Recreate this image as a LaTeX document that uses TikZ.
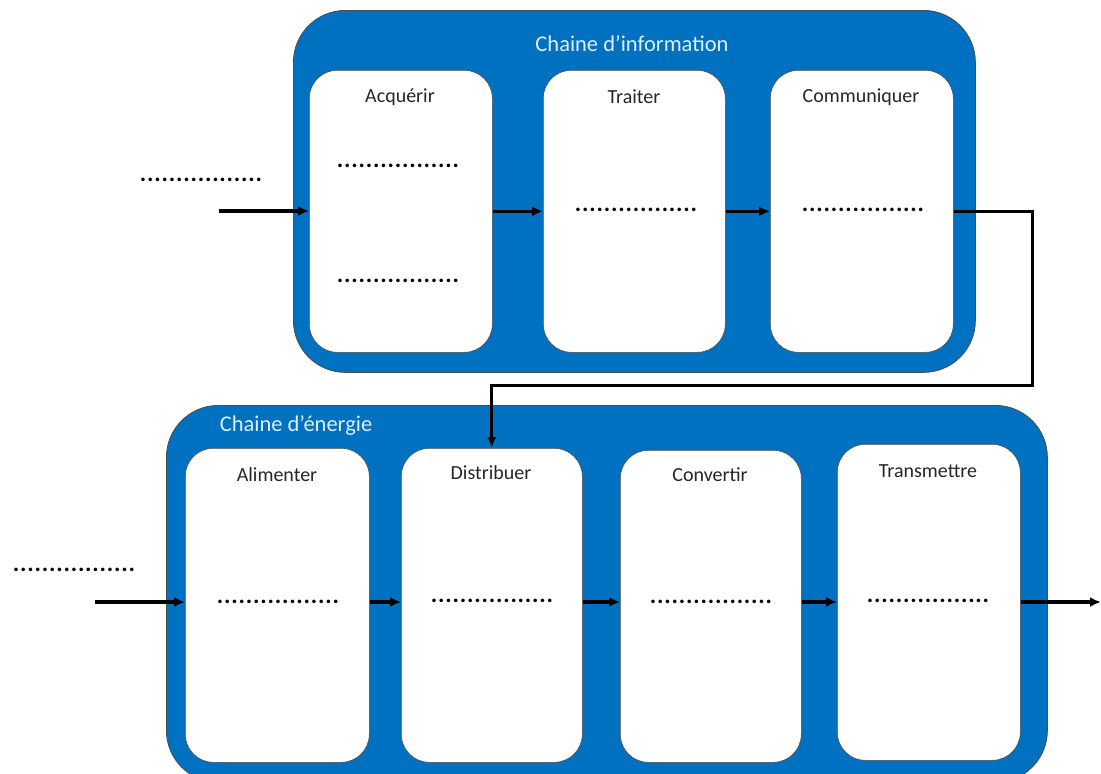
\documentclass[tikz,border=0pt]{standalone}
\usepackage{fontspec}
\setmainfont{Carlito}
\usetikzlibrary{arrows.meta}
\definecolor{bleuchaine}{RGB}{0,112,192}
\newcommand{\pointilles}{{\addfontfeature{LetterSpace=3.5}\bfseries .................}}
\tikzset{
	chaine/.style 2 args={draw=black!70,fill=bleuchaine,rounded corners=52pt,line width=0.8pt,inner sep=0pt,anchor=north west,minimum width=#1,minimum height=#2},
	bloc/.style 2 args={draw=black!70,fill=white,rounded corners=28pt,line width=0.6pt,inner sep=0pt,anchor=north west,minimum width=#1,minimum height=#2},
	titre/.style={text=white!88!bleuchaine,font=\fontsize{22.5}{26}\selectfont,inner sep=0pt},
	etiquette/.style={text=black!85,font=\fontsize{20}{24}\selectfont,inner sep=0pt},
	points/.style={font=\fontsize{24}{28}\selectfont,inner sep=0pt},
	fleche/.style={-{Latex[length=11pt,width=10pt]},line width=3.4pt},
	liaison/.style={-{Latex[length=11pt,width=9pt]},line width=3pt}
}
\begin{document}
\begin{tikzpicture}[x=1pt,y=-1pt]
	\useasboundingbox (0,0) rectangle (1101,774);
	\clip (0,0) rectangle (1101,774);

	% chaine d'information
	\node [chaine={682pt}{362pt}] (info) at (293,10) {};
	\node [titre] (tinfo) at (632,44) {Chaine d’information};
	\node [bloc={183pt}{282pt}] (acquerir) at (309,70) {};
	\node [bloc={182pt}{282pt}] (traiter) at (543,70) {};
	\node [bloc={183pt}{282pt}] (communiquer) at (770,70) {};
	\node [etiquette] (lacquerir) at (400,97) {Acquérir};
	\node [etiquette] (ltraiter) at (634,97) {Traiter};
	\node [etiquette] (lcommuniquer) at (861,97) {Communiquer};

	% chaine d'energie
	\node [chaine={881pt}{377pt}] (energie) at (166,405) {};
	\node [titre] (tenergie) at (296,425) {Chaine d’énergie};
	\node [bloc={184pt}{314pt}] (alimenter) at (185,448) {};
	\node [bloc={181pt}{314pt}] (distribuer) at (401,448) {};
	\node [bloc={181pt}{312pt}] (convertir) at (620,450) {};
	\node [bloc={183pt}{316pt}] (transmettre) at (837,444) {};
	\node [etiquette] (lalimenter) at (277,475) {Alimenter};
	\node [etiquette] (ldistribuer) at (491,473) {Distribuer};
	\node [etiquette] (lconvertir) at (710,475) {Convertir};
	\node [etiquette] (ltransmettre) at (928,471) {Transmettre};

	% pointilles
	\node [points] (p1) at (201,180) {\pointilles};
	\node [points] (p2) at (398,166) {\pointilles};
	\node [points] (p3) at (398,281) {\pointilles};
	\node [points] (p4) at (636,210) {\pointilles};
	\node [points] (p5) at (863,210) {\pointilles};
	\node [points] (p6) at (74,570) {\pointilles};
	\node [points] (p7) at (278,602) {\pointilles};
	\node [points] (p8) at (492,601) {\pointilles};
	\node [points] (p9) at (711,602) {\pointilles};
	\node [points] (p10) at (928,601) {\pointilles};

	% fleches
	\coordinate (eninfo) at (219,211);
	\coordinate (coude) at (1032,385);
	\coordinate (enenergie) at (95,602);
	\coordinate (sortie) at (1101,602);
	\draw [fleche] (eninfo) -- (eninfo -| acquerir.west);
	\draw [fleche] (acquerir.east) -- (traiter.west);
	\draw [fleche] (traiter.east) -- (communiquer.west);
	\draw [liaison] (communiquer.east) -| (coude) -| (distribuer.north);
	\draw [fleche] (enenergie) -- (enenergie -| alimenter.west);
	\draw [fleche] (alimenter.east |- enenergie) -- (distribuer.west |- enenergie);
	\draw [fleche] (distribuer.east |- enenergie) -- (convertir.west |- enenergie);
	\draw [fleche] (convertir.east |- enenergie) -- (transmettre.west |- enenergie);
	\draw [fleche] (transmettre.east |- enenergie) -- (sortie);
\end{tikzpicture}
\end{document}
